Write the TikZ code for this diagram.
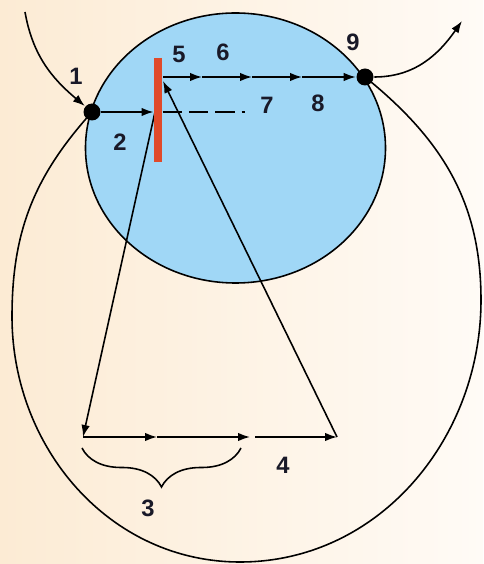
\documentclass[tikz,border=0pt]{standalone}
\usepackage{fontspec}
\setmainfont{Liberation Sans}
\usetikzlibrary{arrows.meta,decorations.pathreplacing}
\definecolor{bgleft}{RGB}{252,235,212}
\definecolor{bgright}{RGB}{255,251,246}
\definecolor{zoneblue}{RGB}{160,215,246}
\definecolor{barred}{RGB}{224,74,42}
\definecolor{numink}{RGB}{25,25,40}

\begin{document}
\begin{tikzpicture}[>={Latex[length=2.4mm,width=1.7mm]},line width=0.9pt,
  dot/.style={circle,fill=black,inner sep=0pt,minimum size=0.34cm},
  num/.style={font=\fontsize{13.5}{15}\selectfont\bfseries,text=numink}]
\useasboundingbox (0,0) rectangle (9.66,11.28);
\shade[left color=bgleft,right color=bgright] (0,0) rectangle (9.66,11.28);
\coordinate (in1) at (1.84,9.04);
\coordinate (out9) at (7.30,9.74);
\coordinate (west) at (0.24,4.95);
\coordinate (south) at (4.80,0.04);
\coordinate (east) at (9.62,5.28);
% outer loop from 1 round the bottom to 9
\draw (in1) to[out=228,in=90] (west) to[out=-90,in=180] (south)
  to[out=0,in=-90] (east) to[out=90,in=-39] (out9);
% blue zone
\draw[fill=zoneblue] (4.71,8.32) ellipse [x radius=3.0,y radius=2.7];
\node[dot] (p1) at (in1) {};
\node[dot] (p9) at (out9) {};
\coordinate (start) at (0.50,11.04);
\coordinate (exit) at (9.24,10.86);
\coordinate (bartop) at (3.16,10.12);
\coordinate (barbot) at (3.16,8.04);
\coordinate (barleft) at (3.07,9.04);
\coordinate (barright) at (3.25,9.04);
\coordinate (hit) at (3.10,9.04);
\coordinate (dashend) at (4.90,9.04);
\coordinate (t0) at (3.26,9.74);
\coordinate (t1) at (4.04,9.74);
\coordinate (t2) at (5.04,9.74);
\coordinate (t3) at (6.04,9.74);
\coordinate (b0) at (1.66,2.54);
\coordinate (b1) at (3.14,2.54);
\coordinate (b2) at (5.00,2.54);
\coordinate (b3) at (5.10,2.54);
\coordinate (b4) at (6.74,2.54);
\coordinate (back) at (3.26,9.66);
\coordinate (br0) at (1.64,2.32);
\coordinate (br1) at (4.82,2.32);
% paths
\draw[->] (start) to[out=-80,in=140] (p1);
\draw[->] (p1) -- (barleft);
\draw[dash pattern=on 11pt off 4pt] (barright) -- (dashend);
\draw[->] (hit) -- (b0);
\draw[->] (b0) -- (b1);
\draw[->] (b1) -- (b2);
\draw[->] (b3) -- (b4);
\draw[->] (b4) -- (back);
\draw[->] (t0) -- (t1);
\draw[->] (t1) -- (t2);
\draw[->] (t2) -- (t3);
\draw[->] (t3) -- (p9);
\draw[->] (p9) to[out=0,in=235] (exit);
\draw[decorate,decoration={brace,mirror,amplitude=0.78cm}] (br0) -- (br1);
\draw[barred,line width=5pt] (bartop) -- (barbot);
% numbers
\node[num] (n1) at (1.52,9.76) {1};
\node[num] (n2) at (2.40,8.44) {2};
\node[num] (n3) at (2.96,1.12) {3};
\node[num] (n4) at (5.66,1.98) {4};
\node[num] (n5) at (3.58,10.20) {5};
\node[num] (n6) at (4.46,10.24) {6};
\node[num] (n7) at (5.34,9.18) {7};
\node[num] (n8) at (6.36,9.22) {8};
\node[num] (n9) at (7.06,10.44) {9};
\end{tikzpicture}
\end{document}
